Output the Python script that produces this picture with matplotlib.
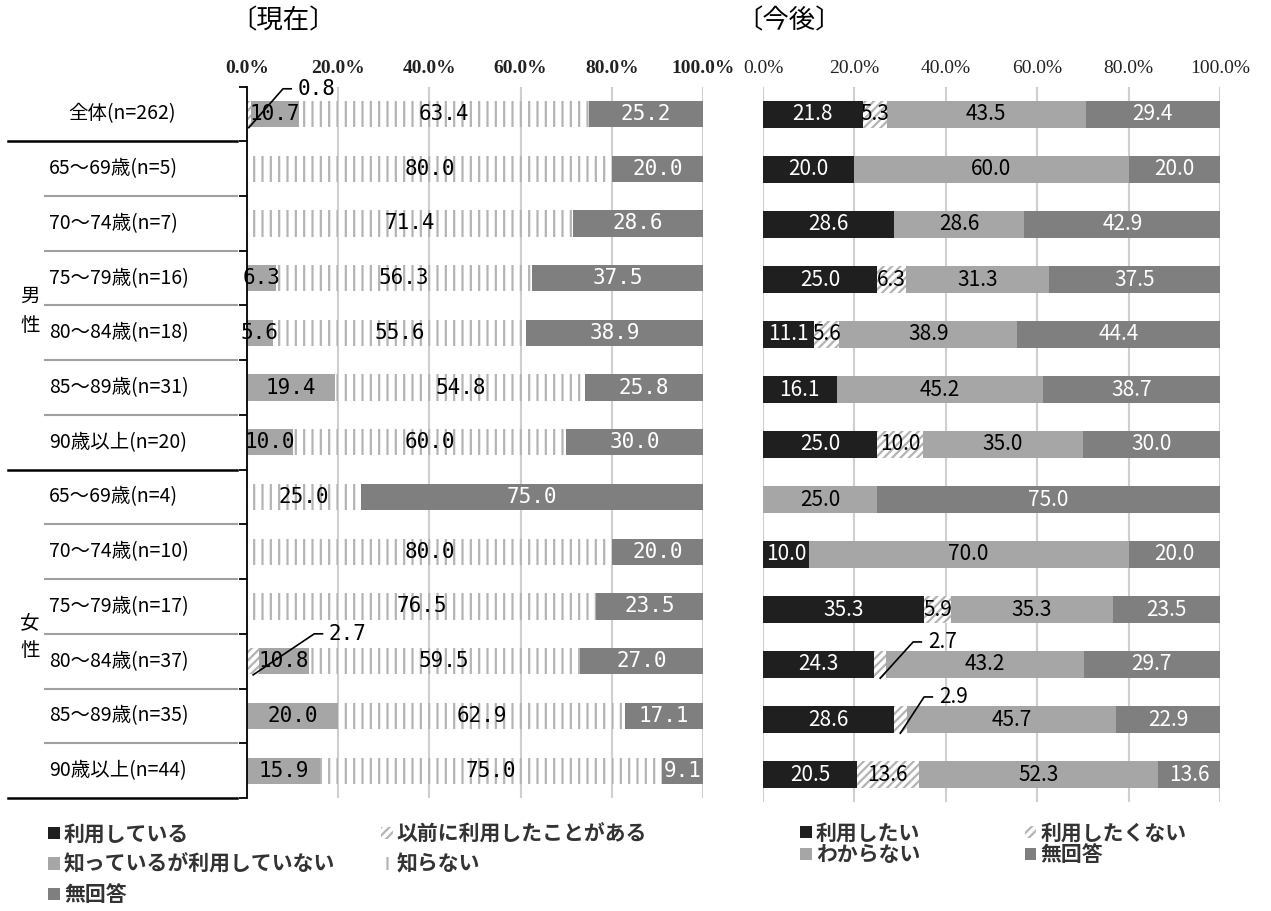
import matplotlib
matplotlib.use("Agg")
import matplotlib.pyplot as plt
import matplotlib.transforms as mtransforms
import numpy as np

plt.rcParams['font.family'] = ['Noto Sans CJK JP', 'DejaVu Sans']
plt.rcParams['hatch.linewidth'] = 1.6

# rows (top to bottom)
rows = ['全体(n=262)',
        '65～69歳(n=5)', '70～74歳(n=7)', '75～79歳(n=16)', '80～84歳(n=18)',
        '85～89歳(n=31)', '90歳以上(n=20)',
        '65～69歳(n=4)', '70～74歳(n=10)', '75～79歳(n=17)', '80～84歳(n=37)',
        '85～89歳(n=35)', '90歳以上(n=44)']

# 〔現在〕
now_labels = ['利用している', '以前に利用したことがある', '知っているが利用していない', '知らない', '無回答']
now_using = [0, 0, 0, 0, 0, 0, 0, 0, 0, 0, 0, 0, 0]
now_before = [0.8, 0, 0, 0, 0, 0, 0, 0, 0, 0, 2.7, 0, 0]
now_know = [10.7, 0, 0, 6.3, 5.6, 19.4, 10.0, 0, 0, 0, 10.8, 20.0, 15.9]
now_unknown = [63.4, 80.0, 71.4, 56.3, 55.6, 54.8, 60.0, 25.0, 80.0, 76.5, 59.5, 62.9, 75.0]
now_na = [25.2, 20.0, 28.6, 37.5, 38.9, 25.8, 30.0, 75.0, 20.0, 23.5, 27.0, 17.1, 9.1]

# 〔今後〕
fut_labels = ['利用したい', '利用したくない', 'わからない', '無回答']
fut_want = [21.8, 20.0, 28.6, 25.0, 11.1, 16.1, 25.0, 0, 10.0, 35.3, 24.3, 28.6, 20.5]
fut_nowant = [5.3, 0, 0, 6.3, 5.6, 0, 10.0, 0, 0, 5.9, 2.7, 2.9, 13.6]
fut_dunno = [43.5, 60.0, 28.6, 31.3, 38.9, 45.2, 35.0, 25.0, 70.0, 35.3, 43.2, 45.7, 52.3]
fut_na = [29.4, 20.0, 42.9, 37.5, 44.4, 38.7, 30.0, 75.0, 20.0, 23.5, 29.7, 22.9, 13.6]

BLACK = '#1f1f1f'
LGRAY = '#a6a6a6'
DGRAY = '#7f7f7f'
HATCH = '#b4b4b4'
st_black = dict(color=BLACK)
st_diag = dict(facecolor='white', edgecolor=HATCH, hatch='////', linewidth=0)
st_light = dict(color=LGRAY)
st_vert = dict(facecolor='white', edgecolor=HATCH, hatch='||', linewidth=0)
st_dark = dict(color=DGRAY)

W, H = 1271, 911
fig = plt.figure(figsize=(W / 100, H / 100), dpi=100)


def box(x0, y0, x1, y1):
    return [x0 / W, 1 - y1 / H, (x1 - x0) / W, (y1 - y0) / H]


ax1 = fig.add_axes(box(247, 86.6, 703, 798))
ax2 = fig.add_axes(box(763, 87, 1220, 802))
y = np.arange(len(rows))


def stack(ax, series, styles, tcolors, font, fsize, small):
    left = np.zeros(len(rows))
    bars = []
    for k, (vals, st, tc) in enumerate(zip(series, styles, tcolors)):
        vals = np.array(vals, dtype=float)
        bars.append(ax.barh(y, vals, left=left, height=0.48, **st))
        for i, v in enumerate(vals):
            if v >= 3:
                ax.text(left[i] + v / 2, i, f'{v:.1f}', ha='center', va='center',
                        color=tc, fontsize=fsize, family=font)
            elif v > 0:
                # callout: diagonal leader line, short horizontal, value
                dx, y0, y1 = small[(k, i)]
                x0 = left[i] + v / 2
                ax.plot([x0, x0 + dx, x0 + dx + 1.8], [i + y0, i + y1, i + y1],
                        color='black', lw=1.2, clip_on=False)
                ax.text(x0 + dx + 3.2, i + y1, f'{v:.1f}', ha='left', va='center',
                        color='black', fontsize=fsize, family=font, clip_on=False)
        left += vals
    return bars


bars1 = stack(ax1, [now_using, now_before, now_know, now_unknown, now_na],
              [st_black, st_diag, st_light, st_vert, st_dark],
              ['white', 'black', 'black', 'black', 'white'], 'DejaVu Sans Mono', 15,
              {(1, 0): (7.5, 0.25, -0.46), (1, 10): (13.4, 0.25, -0.5)})
bars2 = stack(ax2, [fut_want, fut_nowant, fut_dunno, fut_na],
              [st_black, st_diag, st_light, st_dark],
              ['white', 'black', 'black', 'white'], 'Noto Sans CJK JP', 15,
              {(1, 10): (7.2, 0.25, -0.41), (1, 11): (5.2, 0.25, -0.41)})

ticks = np.arange(0, 101, 20)
for ax, wt in ((ax1, 'bold'), (ax2, 'normal')):
    ax.set_xlim(0, 100)
    ax.set_ylim(12.5, -0.5)
    ax.set_xticks(ticks)
    ax.set_xticklabels([f'{t:.1f}%' for t in ticks], family='Liberation Serif',
                       fontsize=14, weight=wt, color='#222222')
    ax.tick_params(axis='x', top=False, bottom=False, labeltop=True,
                   labelbottom=False, length=0, pad=7)
    ax.xaxis.grid(True, color='#cfcfcf', lw=1.5)
    ax.set_axisbelow(True)
    for s in ax.spines.values():
        s.set_visible(False)

ax1.spines['left'].set_visible(True)
ax1.spines['left'].set_linewidth(1.3)
ax1.set_yticks(np.arange(-0.5, 13, 1))
ax1.set_yticklabels([])
ax1.tick_params(axis='y', length=6, width=1.3, color='black')
ax2.set_yticks([])

# row labels and separators
trans = mtransforms.blended_transform_factory(fig.transFigure, ax1.transData)
for i, lab in enumerate(rows):
    ax1.text((68 if i == 0 else 49) / W, i, lab, transform=trans, ha='left',
             va='center', fontsize=14, family=['Noto Sans CJK JP'])
for b in np.arange(0.5, 13, 1):
    if b in (0.5, 6.5, 12.5):
        ax1.plot([8 / W, 237 / W], [b, b], transform=trans, color='black',
                 lw=1.8, clip_on=False)
    else:
        ax1.plot([45 / W, 237 / W], [b, b], transform=trans, color='#a0a0a0',
                 lw=1.5, clip_on=False)
ax1.text(30 / W, 3.6, '男\n性', transform=trans, ha='center', va='center',
         fontsize=14, linespacing=1.45)
ax1.text(30 / W, 9.55, '女\n性', transform=trans, ha='center', va='center',
         fontsize=14, linespacing=1.45)

# titles
fig.text(230 / W, 1 - 21 / H, '〔現在〕', ha='left', va='center', fontsize=19)
fig.text(736 / W, 1 - 21 / H, '〔今後〕', ha='left', va='center', fontsize=19)

# legends
lprop = dict(family='Noto Sans CJK JP', weight='bold', size=15)
order1 = [0, 2, 4, 1, 3]
fig.legend([bars1[i] for i in order1], [now_labels[i] for i in order1],
           ncol=2, loc='upper left', bbox_to_anchor=(38 / W, 1 - 813 / H),
           frameon=False, handlelength=0.55, handleheight=0.55, handletextpad=0.2,
           columnspacing=2.2, labelspacing=0.45, borderpad=0, prop=lprop,
           labelcolor='#333333')
order2 = [0, 2, 1, 3]
fig.legend([bars2[i] for i in order2], [fut_labels[i] for i in order2],
           ncol=2, loc='upper left', bbox_to_anchor=(790 / W, 1 - 812 / H),
           frameon=False, handlelength=0.55, handleheight=0.55, handletextpad=0.2,
           columnspacing=5.0, labelspacing=0.05, borderpad=0, prop=lprop,
           labelcolor='#333333')

fig.savefig('out.png', dpi=100)
